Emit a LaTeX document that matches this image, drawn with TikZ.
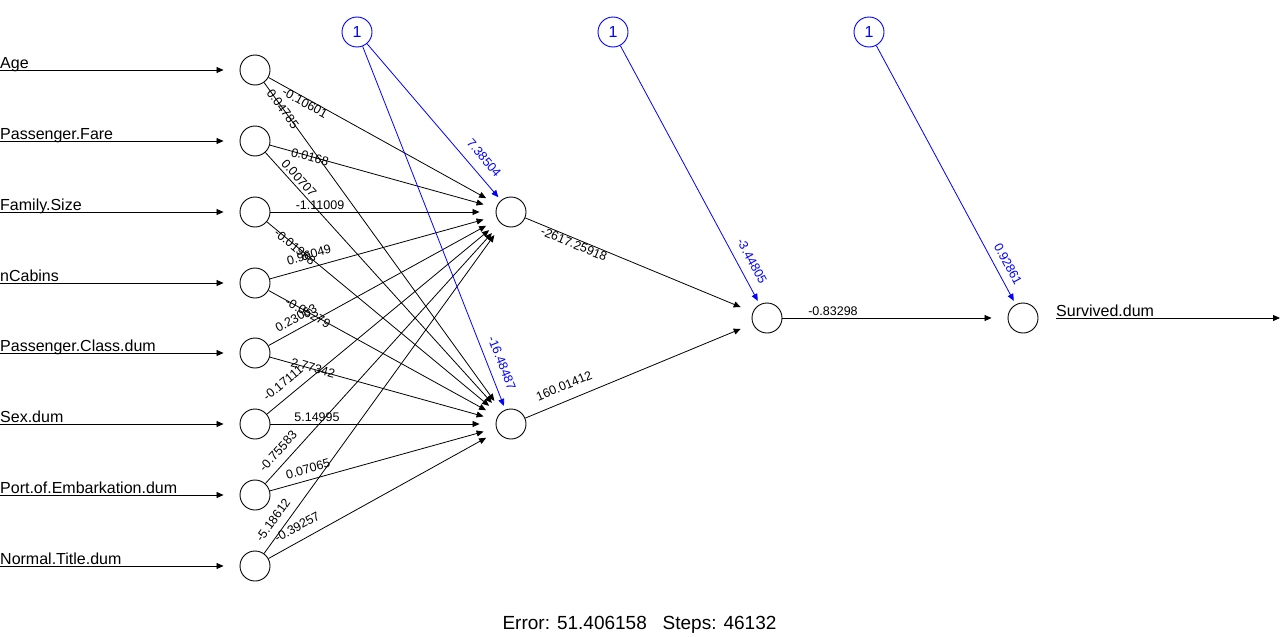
\documentclass[tikz,border=0pt]{standalone}
\usepackage{fontspec}
\setmainfont{Liberation Sans}
\usetikzlibrary{arrows.meta}
\begin{document}
\begin{tikzpicture}[x=1pt,y=-1pt,
  neuron/.style={circle,draw,line width=0.9pt,minimum size=30pt,inner sep=0pt},
  biasnode/.style={neuron,draw=blue,text=blue,font=\fontsize{16}{16}\selectfont},
  conn/.style={line width=0.8pt,-{Triangle[length=7pt,width=6pt]},shorten >=13pt},
  hconn/.style={conn,shorten >=16pt},
  bconn/.style={conn,draw=blue,shorten >=4pt},
  wlab/.style={inner sep=0pt,font=\fontsize{12.5}{12.5}\selectfont},
  blab/.style={wlab,text=blue},
  namelab/.style={inner sep=0pt,anchor=base west,font=\fontsize{16}{16}\selectfont}]
\useasboundingbox[fill=white] (0,0) rectangle (1280,637);

% input neurons
\node[neuron] (i1) at (255,70) {};
\node[neuron] (i2) at (255,141) {};
\node[neuron] (i3) at (255,212) {};
\node[neuron] (i4) at (255,283) {};
\node[neuron] (i5) at (255,353) {};
\node[neuron] (i6) at (255,424) {};
\node[neuron] (i7) at (255,495) {};
\node[neuron] (i8) at (255,566) {};
% hidden
\node[neuron] (h1) at (511,212) {};
\node[neuron] (h2) at (511,424) {};
\node[neuron] (g1) at (767,318) {};
\node[neuron] (o1) at (1023,318) {};
% bias
\node[biasnode] (b1) at (357,32) {1};
\node[biasnode] (b2) at (613,32) {1};
\node[biasnode] (b3) at (869,32) {1};

% input lines and names
\foreach \n/\y/\t in {1/70/Age,2/141/Passenger.Fare,3/212/Family.Size,4/283/nCabins,5/353/Passenger.Class.dum,6/424/Sex.dum,7/495/Port.of.Embarkation.dum,8/566/Normal.Title.dum}{
  \coordinate (s\n) at (0,\y);
  \node[namelab] (n\n) at (0,\y-2) {\t};
  \draw[hconn] (s\n) -- (i\n);
}

% input to hidden
\foreach \n in {1,2,4,5,6,7,8}{
  \draw[conn] (i\n) -- (h1);
}
\foreach \n in {1,2,3,4,5,7,8}{
  \draw[conn] (i\n) -- (h2);
}
\draw[hconn] (i3) -- (h1);
\draw[hconn] (i6) -- (h2);

% hidden to hidden2, output
\draw[conn] (h1) -- (g1);
\draw[conn] (h2) -- (g1);
\draw[hconn] (g1) -- (o1);
\coordinate (oe) at (1280,318);
\draw[line width=0.8pt,-{Triangle[length=7pt,width=6pt]},shorten <=18pt] (o1.east) -- (oe);
\node[namelab] (outname) at (1056,316) {Survived.dum};

% bias connections
\draw[bconn] (b1) -- (h1);
\draw[bconn] (b1) -- (h2);
\draw[bconn] (b2) -- (g1);
\draw[bconn] (b3) -- (o1);

% weight labels
\node[wlab,rotate=-29] (w11) at (305,103) {-0.10601};
\node[wlab,rotate=-54] (w12) at (283,109) {0.04785};
\node[wlab,rotate=-15.5] (w21) at (310,157) {0.0168};
\node[wlab,rotate=-48] (w22) at (299,178) {0.00707};
\node[wlab] (w31) at (320,205) {-1.11009};
\node[wlab,rotate=-39.6] (w32) at (295,247) {-0.01968};
\node[wlab,rotate=15.5] (w41) at (309,255) {0.96049};
\node[wlab,rotate=-28.8] (w42) at (308,313) {-0.05279};
\node[wlab,rotate=28.8] (w51) at (296,318) {0.23063};
\node[wlab,rotate=-15.5] (w52) at (313,368) {2.77342};
\node[wlab,rotate=39.6] (w61) at (283,383) {-0.17111};
\node[wlab] (w62) at (317,417) {5.14995};
\node[wlab,rotate=47.9] (w71) at (278,451) {-0.75583};
\node[wlab,rotate=15.5] (w72) at (308,469) {0.07065};
\node[wlab,rotate=54] (w81) at (273,520) {-5.18612};
\node[wlab,rotate=29] (w82) at (297,527) {-0.39257};
\node[wlab,rotate=-22.5] (v1) at (574,244) {-2617.25918};
\node[wlab,rotate=22.5] (v2) at (564,386) {160.01412};
\node[wlab] (u1) at (833,311) {-0.83298};
\node[blab,rotate=-49.5] (c1) at (484,158) {7.38504};
\node[blab,rotate=-68.6] (c2) at (502,363) {-16.48487};
\node[blab,rotate=-61.7] (c3) at (752,261) {-3.44805};
\node[blab,rotate=-61.7] (c4) at (1008,264) {0.92861};

\node[inner sep=0pt,anchor=base,font=\fontsize{19}{19}\selectfont] (err) at (639.5,629) {Error: 51.406158\ \ \ Steps: 46132};
\end{tikzpicture}
\end{document}
